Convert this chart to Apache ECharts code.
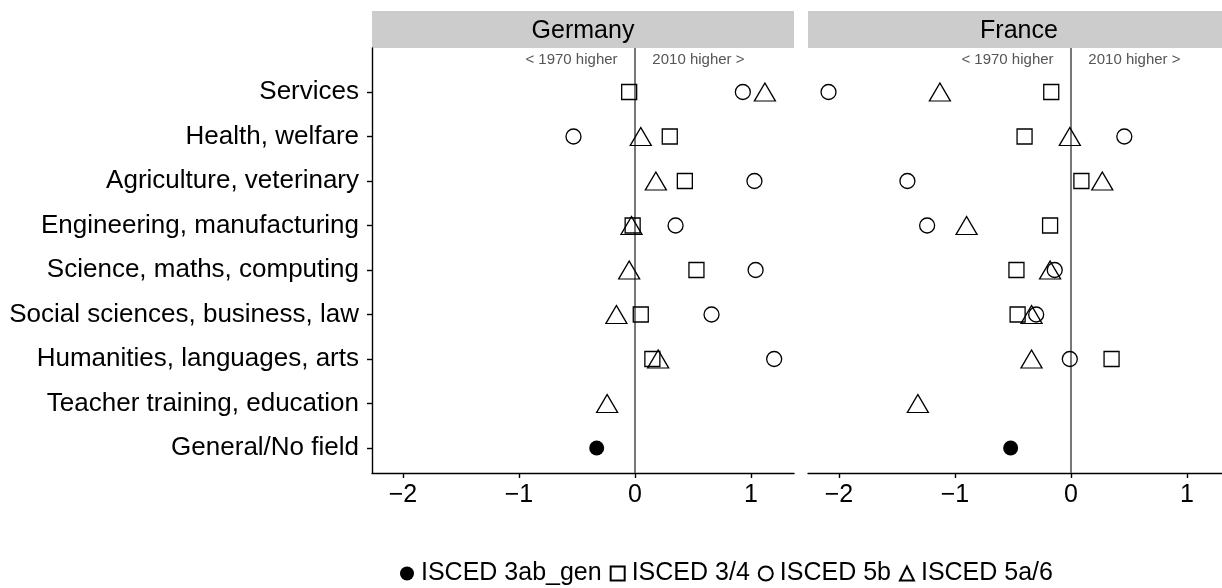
<!DOCTYPE html>
<html><head><meta charset="utf-8">
<script src="https://cdn.jsdelivr.net/npm/echarts@6/dist/echarts.min.js"></script>
<style>html,body{margin:0;padding:0;background:#fff;overflow:hidden}#c{width:1230px;height:588px}</style>
</head><body><div id="c"></div>
<script>
// ---- data (categories listed top to bottom) ----
const categories = ['Services','Health, welfare','Agriculture, veterinary','Engineering, manufacturing','Science, maths, computing','Social sciences, business, law','Humanities, languages, arts','Teacher training, education','General/No field'];
const panels = ['Germany','France'];
const seriesNames = ['ISCED 3ab_gen','ISCED 3/4','ISCED 5b','ISCED 5a/6'];
const deGen = [null,null,null,null,null,null,null,null,-0.33];
const de34  = [-0.05,0.30,0.43,-0.02,0.53,0.05,0.15,null,null];
const de5b  = [0.93,-0.53,1.03,0.35,1.04,0.66,1.20,null,null];
const de5a  = [1.12,0.05,0.18,-0.03,-0.05,-0.16,0.20,-0.24,null];
const frGen = [null,null,null,null,null,null,null,null,-0.52];
const fr34  = [-0.17,-0.40,0.09,-0.18,-0.47,-0.46,0.35,null,null];
const fr5b  = [-2.09,0.46,-1.41,-1.24,-0.14,-0.30,-0.01,null,null];
const fr5a  = [-1.13,-0.01,0.27,-0.90,-0.18,-0.34,-0.34,-1.32,null];
const xTicks = [-2,-1,0,1];
const annotations = [{text:'< 1970 higher', x:-0.15, align:'right'},{text:'2010 higher >', x:0.15, align:'left'}];

const FONT = "'Liberation Sans', Arial, Helvetica, sans-serif";
const N = categories.length;
const yOf = i => N - i;
const yTicks = categories.map((c,i)=>yOf(i));
const X_MIN = -2.267, X_MAX = 1.371, Y_MIN = 0.438, Y_MAX = 9.989;

const panelData = [[deGen,de34,de5b,de5a],[frGen,fr34,fr5b,fr5a]];
const symbols = [
  {symbol:'circle', size:15, style:{color:'#000', borderColor:'#000', borderWidth:0, opacity:1}},
  {symbol:'rect', size:15, style:{color:'rgba(255,255,255,0)', borderColor:'#000', borderWidth:1.3, opacity:1}},
  {symbol:'circle', size:15, style:{color:'rgba(255,255,255,0)', borderColor:'#000', borderWidth:1.3, opacity:1}},
  {symbol:'triangle', size:[21,18], style:{color:'rgba(255,255,255,0)', borderColor:'#000', borderWidth:1.3, opacity:1}}
];

const grids = [
  {left:372, top:48, width:422, height:425},
  {left:808, top:48, width:422, height:425}
];

const xAxes = grids.map((g,gi)=>({
  type:'value', gridIndex:gi, min:X_MIN, max:X_MAX,
  axisLine:{show:true, onZero:false, lineStyle:{color:'#000', width:1.4}},
  axisTick:{show:true, customValues:xTicks, length:5, lineStyle:{color:'#000', width:1.4}},
  axisLabel:{show:true, customValues:xTicks, color:'#000', fontSize:25, fontFamily:FONT, margin:10,
    formatter:v=> v<0 ? '\u2212'+Math.abs(v) : String(v)},
  splitLine:{show:false}
}));
const yAxes = grids.map((g,gi)=>({
  type:'value', gridIndex:gi, min:Y_MIN, max:Y_MAX,
  axisLine:{show:gi===0, onZero:false, lineStyle:{color:'#000', width:1.4}},
  axisTick:{show:gi===0, customValues:yTicks, length:5, lineStyle:{color:'#000', width:1.4}},
  axisLabel:{show:gi===0, customValues:yTicks, color:'#000', fontSize:26, fontFamily:FONT, margin:13,
    formatter:v=> categories[N - Math.round(v)]},
  splitLine:{show:false}
}));

const series = [];
panelData.forEach((arrs,gi)=>{
  arrs.forEach((arr,si)=>{
    const s = symbols[si];
    const ser = {
      type:'scatter', name:seriesNames[si], xAxisIndex:gi, yAxisIndex:gi,
      symbol:s.symbol, symbolSize:s.size, itemStyle:s.style,
      data: arr.map((v,i)=> v===null ? null : [v, yOf(i)]).filter(d=>d!==null),
      silent:true, z:3
    };
    if (si===0) {
      ser.markLine = {symbol:'none', silent:true, label:{show:false},
        lineStyle:{color:'#555', width:1.6, type:'solid', opacity:1}, data:[{xAxis:0}], z:2};
    }
    series.push(ser);
  });
});

const graphic = [];
grids.forEach((g,gi)=>{
  graphic.push({type:'rect', shape:{x:g.left, y:11, width:g.width, height:37}, style:{fill:'#cccccc'}, silent:true});
  graphic.push({type:'text', x:g.left+g.width/2, y:31, style:{text:panels[gi], font:'25px '+FONT, fill:'#000', textAlign:'center', textVerticalAlign:'middle'}, silent:true});
});

const chart = echarts.init(document.getElementById('c'), null, {renderer:'canvas'});
chart.setOption({
  animation:false,
  backgroundColor:'#fff',
  grid:grids,
  xAxis:xAxes, yAxis:yAxes,
  legend:{
    left:395, top:556, itemGap:8, itemWidth:14, itemHeight:14,
    textStyle:{fontSize:25, fontFamily:FONT, color:'#000', padding:[0,0,0,2]},
    data:seriesNames.map((n,i)=>({name:n, icon:symbols[i].symbol}))
  },
  series:series,
  graphic:graphic
});

// annotation labels placed through the axis scale
const annY = 9.72;
grids.forEach((g,gi)=>{
  annotations.forEach(a=>{
    const p = chart.convertToPixel({gridIndex:gi}, [a.x, annY]);
    graphic.push({type:'text', x:p[0], y:p[1], style:{text:a.text, font:'15px '+FONT, fill:'#555', textAlign:a.align, textVerticalAlign:'middle'}, silent:true});
  });
});
chart.setOption({graphic:graphic});
</script>
</body></html>
